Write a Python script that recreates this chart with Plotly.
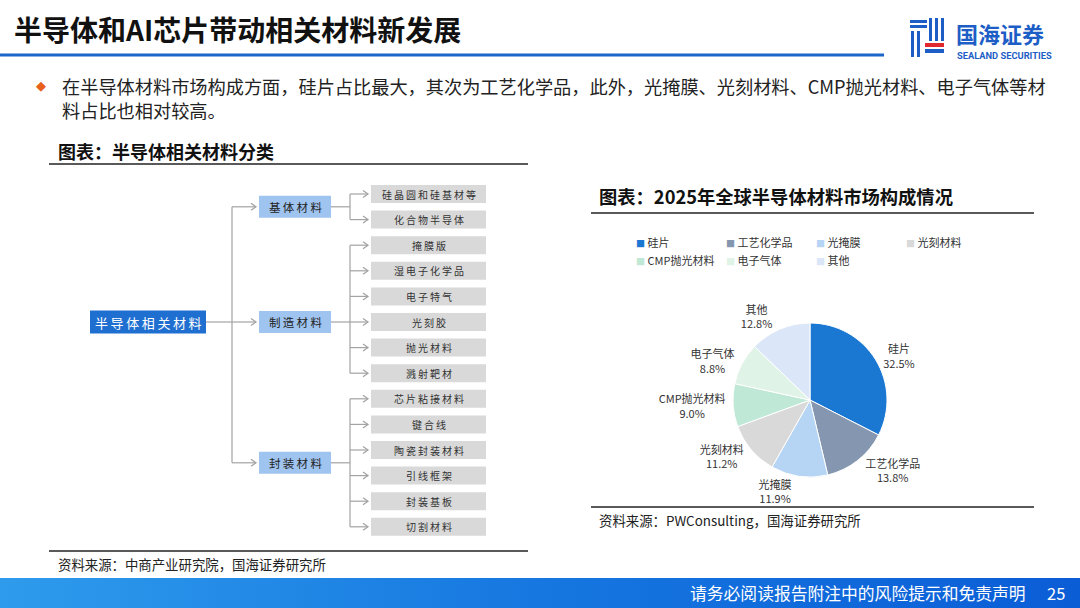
import plotly.graph_objects as go

# ---------------- data ----------------
pie_labels = ["硅片", "工艺化学品", "光掩膜", "光刻材料", "CMP抛光材料", "电子气体", "其他"]
pie_values = [32.5, 13.8, 11.9, 11.2, 9.0, 8.8, 12.8]
pie_colors = ["#1a77d2", "#8597b0", "#b6d5f5", "#d9d9d9", "#bfe8d6", "#e0f3e7", "#dbe7f8"]
legend_rows = [4, 3]

root_label = "半导体相关材料"
group_labels = ["基体材料", "制造材料", "封装材料"]
group_sizes = [2, 6, 6]
leaf_labels = ["硅晶圆和硅基材等", "化合物半导体",
               "掩膜版", "湿电子化学品", "电子特气", "光刻胶", "抛光材料", "溅射靶材",
               "芯片粘接材料", "键合线", "陶瓷封装材料", "引线框架", "封装基板", "切割材料"]
group_anchor = [0.5, 5, 10.5]  # leaf index each group box aligns with

title_text = "半导体和AI芯片带动相关材料新发展"
bullet_lines = ["在半导体材料市场构成方面，硅片占比最大，其次为工艺化学品，此外，光掩膜、光刻材料、CMP抛光材料、电子气体等材",
                "料占比也相对较高。"]
left_title = "图表：半导体相关材料分类"
left_source = "资料来源：中商产业研究院，国海证券研究所"
right_title = "图表：2025年全球半导体材料市场构成情况"
right_source = "资料来源：PWConsulting，国海证券研究所"
footer_text = "请务必阅读报告附注中的风险提示和免责声明"
page_no = "25"

FONT = "Noto Sans CJK SC"
W, H = 1080, 608

def spaced(s, sep="\u2009"):
    return sep.join(list(s))

fig = go.Figure()
shapes = []
ann = []

# ---------------- footer gradient ----------------
fig.add_trace(go.Scatter(x=[0, W, W, 0, 0], y=[578, 578, H, H, 578], mode="lines",
                         fill="toself", line=dict(width=0),
                         fillgradient=dict(type="horizontal",
                                           colorscale=[[0, "#2e9bec"], [0.5, "#1677e0"], [1, "#0b5dd6"]]),
                         hoverinfo="skip", showlegend=False))

# ---------------- tree diagram ----------------
leaf_x0, leaf_x1, leaf_h = 371, 486, 18
leaf_y0, pitch = 194, 25.6
mid_x0, mid_x1, mid_h = 259, 331, 22
root_x0, root_x1, root_h = 90, 206, 23
trunk_x, branch_x = 232, 350
line_col = "#a3a3a3"

leaf_y = [leaf_y0 + i * pitch for i in range(len(leaf_labels))]
mid_y = [leaf_y0 + a * pitch for a in group_anchor]
root_y = mid_y[1]

lx, ly = [], []
def seg(x0, y0, x1, y1):
    lx.extend([x0, x1, None]); ly.extend([y0, y1, None])
def chevron(xt, yt):
    lx.extend([xt - 5, xt, xt - 5, None]); ly.extend([yt - 3.5, yt, yt + 3.5, None])

seg(root_x1, root_y, trunk_x, root_y)
seg(trunk_x, mid_y[0], trunk_x, mid_y[-1])
for y in mid_y:
    seg(trunk_x, y, mid_x0 - 3, y)
    chevron(mid_x0 - 3, y)
start = 0
for g, n in enumerate(group_sizes):
    ys = leaf_y[start:start + n]
    seg(mid_x1, mid_y[g], branch_x, mid_y[g])
    seg(branch_x, ys[0], branch_x, ys[-1])
    for y in ys:
        seg(branch_x, y, leaf_x0 - 3, y)
        chevron(leaf_x0 - 3, y)
    start += n
fig.add_trace(go.Scatter(x=lx, y=ly, mode="lines", line=dict(color=line_col, width=1.2),
                         hoverinfo="skip", showlegend=False))

shapes.append(dict(type="rect", xref="x", yref="y", x0=root_x0, x1=root_x1,
                   y0=root_y - root_h / 2, y1=root_y + root_h / 2,
                   fillcolor="#1f6fd1", line=dict(width=0)))
ann.append(dict(x=(root_x0 + root_x1) / 2, y=root_y, xref="x", yref="y", text=spaced(root_label),
                showarrow=False, font=dict(family=FONT, size=13, color="white")))
for lab, y in zip(group_labels, mid_y):
    shapes.append(dict(type="rect", xref="x", yref="y", x0=mid_x0, x1=mid_x1,
                       y0=y - mid_h / 2, y1=y + mid_h / 2, fillcolor="#9fc4ef", line=dict(width=0)))
    ann.append(dict(x=(mid_x0 + mid_x1) / 2, y=y, xref="x", yref="y", text=spaced(lab),
                    showarrow=False, font=dict(family=FONT, size=11.5, color="#222222")))
for lab, y in zip(leaf_labels, leaf_y):
    shapes.append(dict(type="rect", xref="x", yref="y", x0=leaf_x0, x1=leaf_x1,
                       y0=y - leaf_h / 2, y1=y + leaf_h / 2, fillcolor="#d9d9d9", line=dict(width=0)))
    ann.append(dict(x=(leaf_x0 + leaf_x1) / 2, y=y, xref="x", yref="y", text=spaced(lab),
                    showarrow=False, font=dict(family=FONT, size=10, color="#333333")))

# ---------------- pie ----------------
cx, cy, r = 810, 400, 77
fig.add_trace(go.Pie(labels=pie_labels, values=pie_values, sort=False, direction="clockwise",
                     rotation=0, showlegend=False, automargin=False,
                     marker=dict(colors=pie_colors, line=dict(color="white", width=1)),
                     texttemplate="%{label}<br>%{percent:.1%}", textposition="outside",
                     textfont=dict(family=FONT, size=11, color="#333333"),
                     domain=dict(x=[(cx - r) / W, (cx + r) / W], y=[1 - (cy + r) / H, 1 - (cy - r) / H]),
                     hoverinfo="label+percent"))

# legend entries for the pie slices (two rows -> two legends)
idx = 0
for row, n in enumerate(legend_rows):
    lg = "legend" if row == 0 else "legend2"
    for k in range(n):
        lab, col = pie_labels[idx], pie_colors[idx]
        fig.add_trace(go.Scatter(x=[None], y=[None], mode="markers",
                                 marker=dict(size=1, color="rgba(0,0,0,0)"),
                                 name=f"<span style='color:{col};font-size:9px'>■</span> {lab}",
                                 legend=lg, showlegend=True, hoverinfo="skip"))
        idx += 1
    # empty trailing slot so the last label in the row is not clipped
    fig.add_trace(go.Scatter(x=[None], y=[None], mode="markers",
                             marker=dict(size=1, color="rgba(0,0,0,0)"),
                             name="\u2003", legend=lg, showlegend=True, hoverinfo="skip"))

# ---------------- header ----------------
ann.append(dict(x=12, y=29, xref="x", yref="y", text="<b>" + title_text + "</b>", showarrow=False,
                xanchor="left", font=dict(family=FONT, size=28, color="#111111")))
shapes.append(dict(type="line", xref="x", yref="y", x0=0, x1=884, y0=55, y1=55,
                   line=dict(color="#1b66c9", width=3)))
logo_blue = "#1d5ec6"
for (x0, y0, x1, y1) in [(910, 20, 927, 23), (910, 25, 927, 28),
                         (911, 31, 914, 57), (917, 31, 920, 57),
                         (929, 18, 932, 41), (935, 18, 938, 41), (941, 18, 944, 41),
                         (925, 49, 944, 53)]:
    shapes.append(dict(type="rect", xref="x", yref="y", x0=x0, y0=y0, x1=x1, y1=y1,
                       fillcolor=logo_blue, line=dict(width=0)))
shapes.append(dict(type="rect", xref="x", yref="y", x0=925, y0=43, x1=944, y1=47,
                   fillcolor="#e0282e", line=dict(width=0)))
ann.append(dict(x=954, y=33, xref="x", yref="y", text="<b>国海证券</b>", showarrow=False, xanchor="left",
                font=dict(family=FONT, size=22, color=logo_blue)))
ann.append(dict(x=955, y=55, xref="x", yref="y", text="<b>SEALAND SECURITIES</b>", showarrow=False,
                xanchor="left", font=dict(family="Roboto", size=9.3, color=logo_blue)))

ann.append(dict(x=34, y=85, xref="x", yref="y", text="◆", showarrow=False, xanchor="left",
                font=dict(family="DejaVu Sans", size=13, color="#e8601c")))
ann.append(dict(x=60, y=71, xref="x", yref="y", text="<br>".join(bullet_lines), showarrow=False,
                xanchor="left", yanchor="top", align="left",
                font=dict(family=FONT, size=18.2, color="#222222")))

ann.append(dict(x=56, y=151, xref="x", yref="y", text="<b>" + left_title + "</b>", showarrow=False,
                xanchor="left", font=dict(family=FONT, size=18, color="#111111")))
shapes.append(dict(type="line", xref="x", yref="y", x0=49, x1=528, y0=164, y1=164,
                   line=dict(color="#222222", width=1.5)))
shapes.append(dict(type="line", xref="x", yref="y", x0=49, x1=528, y0=551, y1=551,
                   line=dict(color="#222222", width=1.5)))
ann.append(dict(x=56, y=564, xref="x", yref="y", text=left_source, showarrow=False, xanchor="left",
                font=dict(family=FONT, size=13.4, color="#222222")))

ann.append(dict(x=597, y=196, xref="x", yref="y", text="<b>" + right_title + "</b>", showarrow=False,
                xanchor="left", font=dict(family=FONT, size=18.3, color="#111111")))
shapes.append(dict(type="line", xref="x", yref="y", x0=591, x1=1034, y0=213, y1=213,
                   line=dict(color="#222222", width=1.5)))
shapes.append(dict(type="line", xref="x", yref="y", x0=591, x1=1034, y0=507, y1=507,
                   line=dict(color="#222222", width=1.5)))
ann.append(dict(x=597, y=520, xref="x", yref="y", text=right_source, showarrow=False, xanchor="left",
                font=dict(family=FONT, size=13.4, color="#222222")))

ann.append(dict(x=1028, y=593, xref="x", yref="y", text=footer_text, showarrow=False, xanchor="right",
                font=dict(family=FONT, size=16.8, color="white")))
ann.append(dict(x=1056, y=593, xref="x", yref="y", text=page_no, showarrow=False, xanchor="center",
                font=dict(family=FONT, size=16.5, color="white")))

leg_common = dict(orientation="h", xanchor="left", yanchor="middle",
                  entrywidth=45, entrywidthmode="pixels", traceorder="normal",
                  font=dict(family=FONT, size=11, color="#333333"), itemwidth=30,
                  bgcolor="rgba(0,0,0,0)", borderwidth=0, itemclick=False, itemdoubleclick=False)
fig.update_layout(
    width=W, height=H, margin=dict(l=0, r=0, t=0, b=0, autoexpand=False),
    paper_bgcolor="white", plot_bgcolor="white",
    xaxis=dict(range=[0, W], visible=False, fixedrange=True),
    yaxis=dict(range=[H, 0], visible=False, fixedrange=True),
    shapes=shapes, annotations=ann,
    showlegend=True,
    legend=dict(x=596 / W, y=1 - 243 / H, **leg_common),
    legend2=dict(x=596 / W, y=1 - 261 / H, **leg_common),
    font=dict(family=FONT),
)

fig.write_html("out.html", config={"displayModeBar": False},
               post_script="document.body.style.margin='0';document.body.style.overflow='hidden';")
